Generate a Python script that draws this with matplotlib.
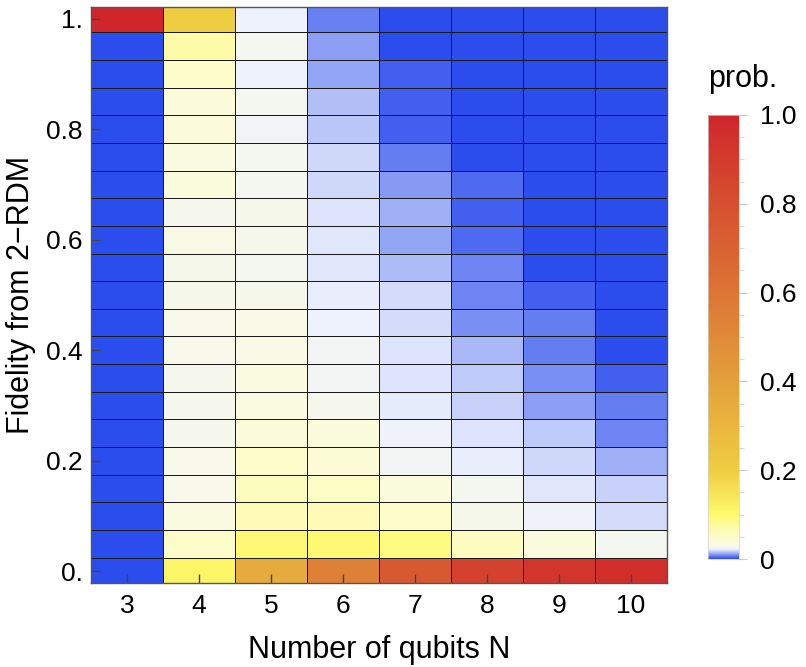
import numpy as np
import matplotlib
matplotlib.use("Agg")
import matplotlib.pyplot as plt
from matplotlib.colors import LinearSegmentedColormap, Normalize

plt.rcParams['font.family'] = ['Liberation Sans', 'DejaVu Sans']

# number of qubits (columns) and fidelity bins (rows, from 0 up to 1)
qubits = [3, 4, 5, 6, 7, 8, 9, 10]
fidelity = [0.0, 0.05, 0.1, 0.15, 0.2, 0.25, 0.3, 0.35, 0.4, 0.45, 0.5,
            0.55, 0.6, 0.65, 0.7, 0.75, 0.8, 0.85, 0.9, 0.95, 1.0]

# probability per fidelity bin (F = 0 ... 1)
prob_n3 = [0.0, 0.0, 0.0, 0.0, 0.0, 0.0, 0.0, 0.0, 0.0, 0.0, 0.0,
           0.0, 0.0, 0.0, 0.0, 0.0, 0.0, 0.0, 0.0, 0.0, 1.0]
prob_n4 = [0.11, 0.05, 0.035, 0.03, 0.031, 0.028, 0.028, 0.028, 0.03, 0.03, 0.029,
           0.029, 0.033, 0.028, 0.038, 0.035, 0.04, 0.04, 0.048, 0.07, 0.2]
prob_n5 = [0.35, 0.095, 0.062, 0.056, 0.05, 0.04, 0.035, 0.035, 0.032, 0.032, 0.029,
           0.026, 0.029, 0.029, 0.026, 0.026, 0.024, 0.026, 0.022, 0.026, 0.022]
prob_n6 = [0.55, 0.097, 0.062, 0.052, 0.042, 0.037, 0.028, 0.025, 0.025, 0.0222, 0.0219,
           0.0206, 0.0206, 0.0204, 0.0188, 0.0186, 0.0163, 0.0154, 0.012, 0.0109, 0.007]
prob_n7 = [0.75, 0.09, 0.05, 0.037, 0.025, 0.0225, 0.0211, 0.0204, 0.0203, 0.0195, 0.0191,
           0.015, 0.0122, 0.0136, 0.0104, 0.0065, 0.0028, 0.0028, 0.0028, 0.0, 0.0]
prob_n8 = [0.87, 0.055, 0.029, 0.026, 0.0215, 0.0204, 0.0177, 0.017, 0.0143, 0.0088, 0.0077,
           0.0077, 0.0041, 0.0028, 0.0041, 0.0, 0.0, 0.0, 0.0, 0.0, 0.0]
prob_n9 = [0.93, 0.038, 0.023, 0.0206, 0.0186, 0.017, 0.0109, 0.0088, 0.0068, 0.0065, 0.0028,
           0.0, 0.0, 0.0, 0.0, 0.0, 0.0, 0.0, 0.0, 0.0, 0.0]
prob_n10 = [0.96, 0.026, 0.0195, 0.0177, 0.0132, 0.0077, 0.0068, 0.0028, 0.0003, 0.0002, 0.0,
            0.0, 0.0, 0.0, 0.0, 0.0, 0.0, 0.0, 0.0, 0.0, 0.0]

probs = np.array([prob_n3, prob_n4, prob_n5, prob_n6, prob_n7,
                  prob_n8, prob_n9, prob_n10]).T

# colour function: blue at zero, white just above, then yellow -> orange -> red
cmap = LinearSegmentedColormap.from_list("prob", [
    (0.0, "#2c4ded"),
    (0.022, "#eef2fc"),
    (0.026, "#f4f6f0"),
    (0.035, "#fafae0"),
    (0.05, "#fcfcc8"),
    (0.07, "#fdfba8"),
    (0.1, "#fdf96c"),
    (0.2, "#efcd42"),
    (0.4, "#e3a03a"),
    (0.6, "#dc7535"),
    (0.8, "#d6502f"),
    (1.0, "#d0262b"),
], N=2048)

fig = plt.figure(figsize=(8.06, 6.67), dpi=100)
ax = fig.add_axes([0.1129, 0.1259, 0.7146, 0.8636])

q = np.array(qubits, dtype=float)
f = np.array(fidelity)
xedges = np.concatenate([q - 0.5, [q[-1] + 0.5]])
yedges = np.concatenate([f - 0.025, [f[-1] + 0.025]])
mesh = ax.pcolormesh(xedges, yedges, probs, cmap=cmap, norm=Normalize(0, 1),
                     edgecolors="#1a1a1a", linewidth=0.55)

ax.set_xlim(2.5, 10.5)
ax.set_ylim(-0.021, 1.021)
ax.set_xticks(qubits)
ax.set_xticklabels([str(n) for n in qubits])
ax.set_yticks([0, 0.2, 0.4, 0.6, 0.8, 1.0])
ax.set_yticklabels(["0.", "0.2", "0.4", "0.6", "0.8", "1."])
ax.tick_params(direction="in", length=6.5, width=1, color="#444444",
               labelsize=19, pad=6)
ax.tick_params(axis="x", pad=8)
for s in ax.spines.values():
    s.set_color("#555555")
    s.set_linewidth(1)

ax.set_xlabel("Number of qubits N", fontsize=22, labelpad=12)
ax.set_ylabel("Fidelity from 2\u2212RDM", fontsize=22, labelpad=7)

cax = fig.add_axes([0.8784, 0.1619, 0.0385, 0.6657])
cb = fig.colorbar(mesh, cax=cax)
cb.set_ticks([0, 0.2, 0.4, 0.6, 0.8, 1.0])
cb.set_ticklabels(["0", "0.2", "0.4", "0.6", "0.8", "1.0"])
cb.ax.set_yticks(np.arange(0.05, 1.0, 0.05), minor=True)
cb.ax.tick_params(which="major", length=6, width=0.8, color="#c8c8c8",
                  labelsize=19, pad=9)
cb.ax.tick_params(which="minor", length=3.5, width=0.8, color="#d8d8d8")
cb.outline.set_edgecolor("#d0d0d0")
cb.outline.set_linewidth(0.5)

fig.text(0.878, 0.882, "prob.", fontsize=22, ha="left", va="center")

fig.savefig("out.png", dpi=100)
